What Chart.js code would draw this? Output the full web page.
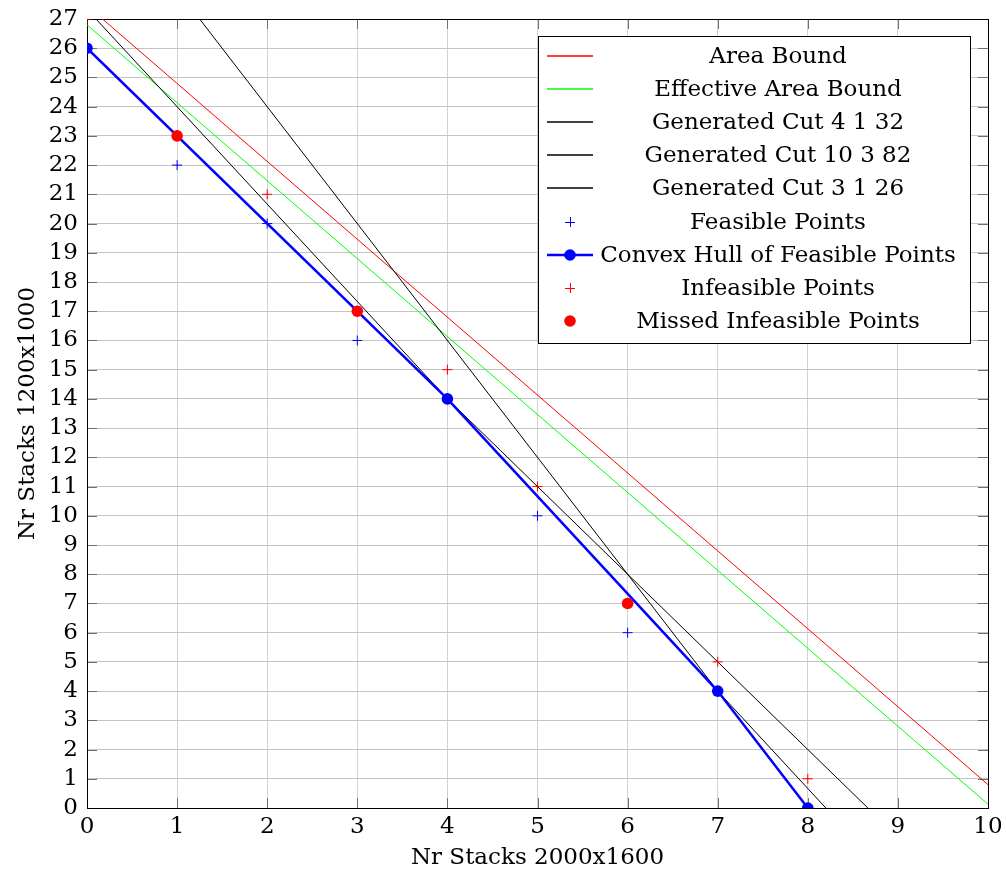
<!DOCTYPE html>
<html><head><meta charset="utf-8">
<script src="https://cdn.jsdelivr.net/npm/chart.js@4"></script>
<style>html,body{margin:0;padding:0;background:#fff}</style>
</head><body>
<canvas id="c" width="1006" height="880" style="display:block;width:1006px;height:880px"></canvas>
<script>
// ---- data ----
const xTickValues = [0,1,2,3,4,5,6,7,8,9,10];
const yTickValues = [0,1,2,3,4,5,6,7,8,9,10,11,12,13,14,15,16,17,18,19,20,21,22,23,24,25,26,27];
const xTitle = "Nr Stacks 2000x1600";
const yTitle = "Nr Stacks 1200x1000";
const seriesLabels = ["Area Bound","Effective Area Bound","Generated Cut 4 1 32","Generated Cut 10 3 82","Generated Cut 3 1 26","Feasible Points","Convex Hull of Feasible Points","Infeasible Points","Missed Infeasible Points"];
const areaBoundX = [0, 10];
const areaBoundY = [27.46, 0.8];
const effAreaBoundX = [0, 10];
const effAreaBoundY = [26.8, 0.13];
const cut4x1y32X = [0, 8];
const cut4x1y32Y = [32, 0];
const cut10x3y82X = [0, 8.2];
const cut10x3y82Y = [27.333, 0];
const cut3x1y26X = [0, 8.667];
const cut3x1y26Y = [26, 0];
const feasibleX = [0,1,2,3,4,5,6,7,8];
const feasibleY = [26,22,20,16,14,10,6,4,0];
const hullX = [0,4,7,8];
const hullY = [26,14,4,0];
const infeasibleX = [0,1,2,3,4,5,6,7,8];
const infeasibleY = [27,23,21,17,15,11,7,5,1];
const missedX = [1,3,6];
const missedY = [23,17,7];

// ---- build ----
const FONT = "'DejaVu Serif', serif";
const pts = (xs, ys) => xs.map((x, i) => ({x: x, y: ys[i]}));

const lineDs = (label, xs, ys, color, w) => ({
  label, data: pts(xs, ys), showLine: true, borderColor: color, backgroundColor: color,
  borderWidth: w, pointRadius: 0, fill: false, tension: 0, _leg: 'line'
});
const markDs = (label, xs, ys, color, style) => ({
  label, data: pts(xs, ys), showLine: false, borderColor: color, backgroundColor: color,
  pointBorderColor: color, pointBackgroundColor: color,
  pointStyle: style, pointRadius: style === 'cross' ? 5 : 5.8, pointBorderWidth: style === 'cross' ? 1 : 0, _leg: 'mark'
});

const datasets = [
  lineDs(seriesLabels[0], areaBoundX, areaBoundY, '#ff0000', 1),
  lineDs(seriesLabels[1], effAreaBoundX, effAreaBoundY, '#00ff00', 1),
  lineDs(seriesLabels[2], cut4x1y32X, cut4x1y32Y, '#000000', 1),
  lineDs(seriesLabels[3], cut10x3y82X, cut10x3y82Y, '#000000', 1),
  lineDs(seriesLabels[4], cut3x1y26X, cut3x1y26Y, '#000000', 1),
  markDs(seriesLabels[5], feasibleX, feasibleY, '#0000ff', 'cross'),
  Object.assign(lineDs(seriesLabels[6], hullX, hullY, '#0000ff', 2.5), {pointRadius: 5.8, pointStyle: 'circle', pointBorderWidth: 0, pointBackgroundColor: '#0000ff', _leg: 'both'}),
  markDs(seriesLabels[7], infeasibleX, infeasibleY, '#ff0000', 'cross'),
  markDs(seriesLabels[8], missedX, missedY, '#ff0000', 'circle'),
];
datasets.forEach((d, i) => { d.order = datasets.length - i; });

const framePlugin = {
  id: 'frame',
  beforeDatasetsDraw(chart) {
    const {ctx, chartArea: a, scales: {x, y}} = chart;
    ctx.save();
    ctx.strokeStyle = '#707070';
    ctx.lineWidth = 1;
    ctx.beginPath();
    x.ticks.forEach(t => {
      const p = Math.round(x.getPixelForValue(t.value)) + 0.5;
      ctx.moveTo(p, a.bottom); ctx.lineTo(p, a.bottom - 10);
      ctx.moveTo(p, a.top); ctx.lineTo(p, a.top + 10);
    });
    y.ticks.forEach(t => {
      const p = Math.round(y.getPixelForValue(t.value)) + 0.5;
      ctx.moveTo(a.left, p); ctx.lineTo(a.left + 10, p);
      ctx.moveTo(a.right, p); ctx.lineTo(a.right - 10, p);
    });
    ctx.stroke();
    ctx.strokeStyle = '#000';
    ctx.strokeRect(Math.round(a.left) + 0.5, Math.round(a.top) + 0.5, Math.round(a.width), Math.round(a.height));
    ctx.restore();
  }
};

const legendPlugin = {
  id: 'texLegend',
  afterDraw(chart) {
    const ctx = chart.ctx;
    const bx = 538.5, by = 36.5, bw = 432, bh = 307;
    const row0 = 56, pitch = 33.1;
    ctx.save();
    ctx.fillStyle = '#fff';
    ctx.fillRect(bx, by, bw, bh);
    ctx.strokeStyle = '#000'; ctx.lineWidth = 1;
    ctx.strokeRect(bx, by, bw, bh);
    chart.data.datasets.forEach((d, i) => {
      const cy = Math.round(row0 + i * pitch);
      if (d._leg === 'line' || d._leg === 'both') {
        ctx.strokeStyle = d.borderColor; ctx.lineWidth = d._leg === 'both' ? 2.5 : 1.5;
        ctx.beginPath(); ctx.moveTo(547, cy); ctx.lineTo(593, cy); ctx.stroke();
      }
      if (d._leg === 'mark' || d._leg === 'both') {
        ctx.fillStyle = d.backgroundColor; ctx.strokeStyle = d.borderColor; ctx.lineWidth = 1;
        ctx.beginPath();
        if (d.pointStyle === 'cross') {
          ctx.moveTo(565, cy + 0.5); ctx.lineTo(575, cy + 0.5);
          ctx.moveTo(570.5, cy - 5); ctx.lineTo(570.5, cy + 5); ctx.stroke();
        } else {
          ctx.arc(570, cy, 5.8, 0, Math.PI * 2); ctx.fill();
        }
      }
      ctx.fillStyle = '#000';
      ctx.font = '23px ' + FONT;
      ctx.textAlign = 'center'; ctx.textBaseline = 'middle';
      ctx.fillText(d.label, 778, cy + 1);
    });
    ctx.restore();
  }
};

new Chart(document.getElementById('c'), {
  type: 'scatter',
  data: { datasets },
  options: {
    responsive: false,
    animation: false,
    devicePixelRatio: 1,
    events: [],
    layout: { padding: { top: 19, right: 18, left: 0, bottom: 0 } },
    plugins: { legend: { display: false }, tooltip: { enabled: false } },
    scales: {
      x: {
        type: 'linear', min: xTickValues[0], max: xTickValues[xTickValues.length - 1],
        afterBuildTicks: s => { s.ticks = xTickValues.map(v => ({value: v})); },
        afterFit: s => { s.height = 72; s.paddingLeft = 0; s.paddingRight = 0; },
        ticks: { color: '#000', font: { family: FONT, size: 23 }, padding: 5, maxRotation: 0, autoSkip: false },
        grid: { color: '#d2d2d2', drawTicks: false, lineWidth: 1 },
        border: { display: false },
        title: { display: true, text: xTitle, color: '#000', font: { family: FONT, size: 23 }, padding: { top: 0, bottom: 8 } }
      },
      y: {
        type: 'linear', min: yTickValues[0], max: yTickValues[yTickValues.length - 1],
        afterBuildTicks: s => { s.ticks = yTickValues.map(v => ({value: v})); },
        afterFit: s => { s.width = 87; s.paddingTop = 0; s.paddingBottom = 0; },
        ticks: { color: '#000', font: { family: FONT, size: 23 }, padding: 9, autoSkip: false },
        grid: { color: '#c4c4c4', drawTicks: false, lineWidth: 1 },
        border: { display: false },
        title: { display: true, text: yTitle, color: '#000', font: { family: FONT, size: 23 }, padding: { top: 14, bottom: 0 } }
      }
    }
  },
  plugins: [framePlugin, legendPlugin]
});
</script>
</body></html>
